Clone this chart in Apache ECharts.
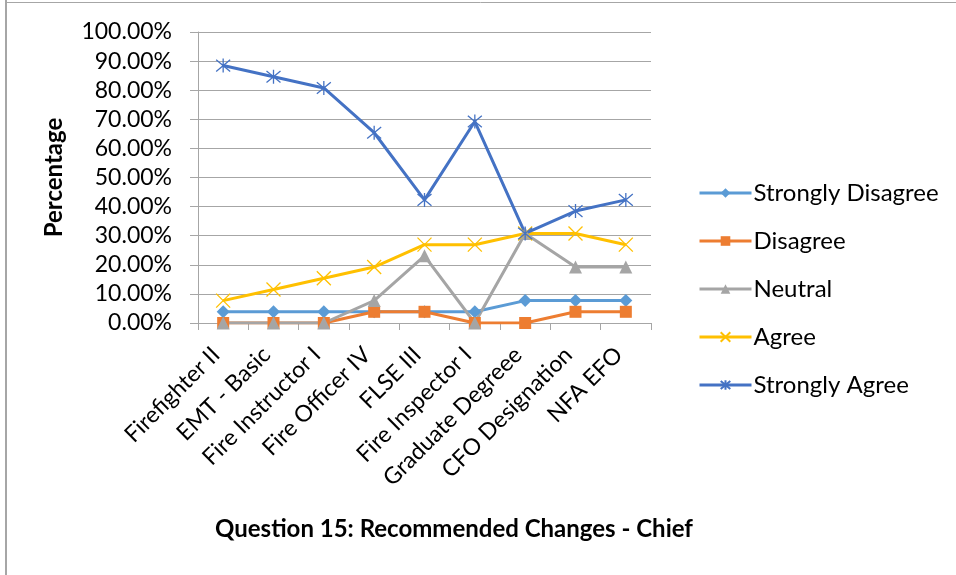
<!DOCTYPE html>
<html>
<head>
<meta charset="utf-8">
<script src="https://cdn.jsdelivr.net/npm/echarts@6/dist/echarts.min.js"></script>
<style>
  html, body { margin: 0; padding: 0; background: #fff; }
  #chart { width: 956px; height: 575px; }
</style>
</head>
<body>
<div id="chart"></div>
<script>
// categories on the x axis
var categories = ['Firefighter II', 'EMT - Basic', 'Fire Instructor I', 'Fire Officer IV', 'FLSE III',
  'Fire Inspector I', 'Graduate Degreee', 'CFO Designation', 'NFA EFO']

// percentages per answer
var stronglyDisagree = [3.85, 3.85, 3.85, 3.85, 3.85, 3.85, 7.69, 7.69, 7.69]
var disagree = [0, 0, 0, 3.85, 3.85, 0, 0, 3.85, 3.85]
var neutral = [0, 0, 0, 7.69, 23.08, 0, 30.77, 19.23, 19.23]
var agree = [7.69, 11.54, 15.38, 19.23, 26.92, 26.92, 30.77, 30.77, 26.92]
var stronglyAgree = [88.46, 84.62, 80.77, 65.38, 42.31, 69.23, 30.77, 38.46, 42.31]

var FONT = 'Lato'
var xPath = 'path://M0,0L10,10M10,0L0,10'
var starPath = 'path://M0,0L10,10M10,0L0,10M5,-1L5,11'

function lineSeries(name, data, color, symbol, size, stroked) {
  var s = {
    name: name,
    type: 'line',
    data: data,
    symbol: symbol,
    symbolSize: size,
    showAllSymbol: true,
    lineStyle: { color: color, width: 3 },
    itemStyle: { color: color },
    emphasis: { disabled: true }
  }
  if (stroked) {
    s.itemStyle = { color: 'none', borderColor: color, borderWidth: 1.3 }
  }
  return s
}

var chart = echarts.init(document.getElementById('chart'))
chart.setOption({
  animation: false,
  textStyle: { fontFamily: FONT },
  title: {
    text: 'Question 15: Recommended Changes - Chief',
    left: 449,
    top: 512,
    textAlign: 'center',
    textStyle: { fontFamily: FONT, fontWeight: 'bold', fontSize: 24, color: '#000' }
  },
  grid: { left: 198, top: 32, width: 453, height: 291, containLabel: false },
  legend: {
    orient: 'vertical',
    left: 693,
    top: 176,
    itemWidth: 52,
    itemHeight: 12,
    itemGap: 24,
    lineStyle: { width: 3 },
    textStyle: { fontFamily: FONT, fontSize: 24, lineHeight: 24, color: '#000', padding: [0, 0, 0, -3] },
    data: ['Strongly Disagree', 'Disagree', 'Neutral', 'Agree', 'Strongly Agree']
  },
  xAxis: {
    type: 'category',
    data: categories,
    boundaryGap: true,
    axisLine: { lineStyle: { color: '#a6a6a6', width: 1 } },
    axisTick: { show: true, length: 7, lineStyle: { color: '#a6a6a6' } },
    axisLabel: {
      rotate: 45, interval: 0, fontSize: 23, color: '#000', fontFamily: FONT,
      margin: 21, padding: [0, 10, 0, 0]
    }
  },
  yAxis: {
    type: 'value',
    min: 0,
    max: 100,
    interval: 10,
    name: 'Percentage',
    nameLocation: 'middle',
    nameGap: 132,
    nameTextStyle: { fontFamily: FONT, fontWeight: 'bold', fontSize: 24, color: '#000' },
    axisLine: { show: true, lineStyle: { color: '#a6a6a6', width: 1 } },
    axisTick: { show: true, length: 8, lineStyle: { color: '#a6a6a6' } },
    axisLabel: {
      fontSize: 23, color: '#000', fontFamily: FONT, margin: 26,
      formatter: function (v) { return v.toFixed(2) + '%' }
    },
    splitLine: { lineStyle: { color: '#a6a6a6', width: 1 } }
  },
  graphic: [
    { type: 'line', shape: { x1: 6, y1: 0, x2: 6, y2: 575 }, style: { stroke: '#a6a6a6', lineWidth: 2 } },
    { type: 'line', shape: { x1: 5, y1: 2.5, x2: 956, y2: 2.5 }, style: { stroke: '#a6a6a6', lineWidth: 1 } }
  ],
  series: [
    lineSeries('Strongly Disagree', stronglyDisagree, '#5B9BD5', 'diamond', 13),
    lineSeries('Disagree', disagree, '#ED7D31', 'rect', 12),
    lineSeries('Neutral', neutral, '#A5A5A5', 'triangle', 13),
    lineSeries('Agree', agree, '#FFC000', xPath, 14, true),
    lineSeries('Strongly Agree', stronglyAgree, '#4472C4', starPath, 14, true)
  ]
})
</script>
</body>
</html>
